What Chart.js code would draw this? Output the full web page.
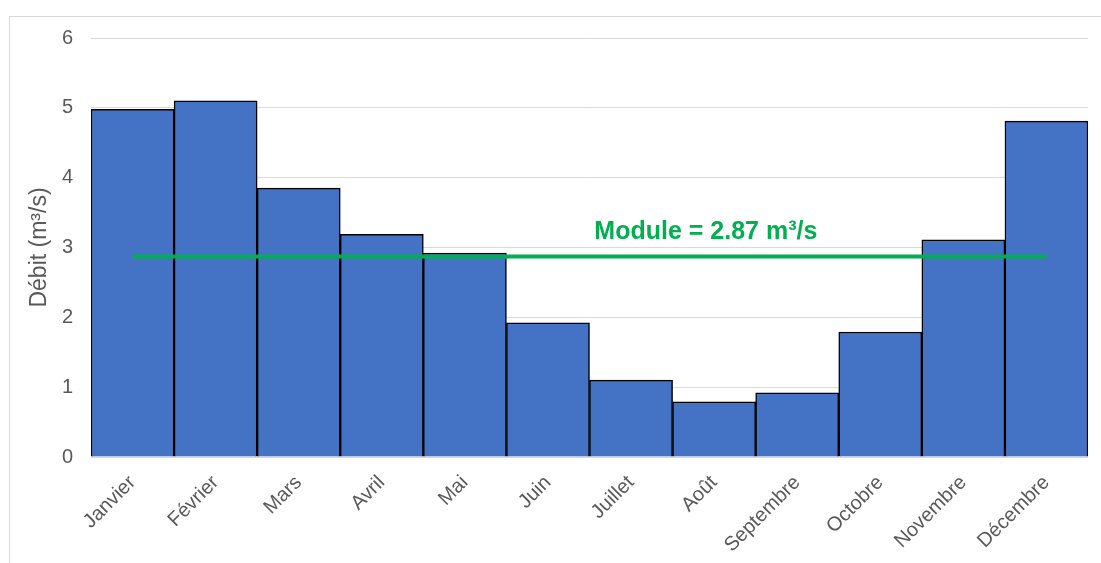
<!DOCTYPE html>
<html>
<head>
<meta charset="utf-8">
<script src="https://cdn.jsdelivr.net/npm/chart.js@4/dist/chart.umd.min.js"></script>
<style>
  body { margin: 0; background: #fff; }
  #wrap { position: relative; width: 1101px; height: 563px; }
</style>
</head>
<body>
<div id="wrap"><canvas id="chart" width="1101" height="563"></canvas></div>
<script>
// mean monthly discharge
const months = ['Janvier', 'Février', 'Mars', 'Avril', 'Mai', 'Juin', 'Juillet', 'Août', 'Septembre', 'Octobre', 'Novembre', 'Décembre'];
const debit = [4.98, 5.10, 3.85, 3.19, 2.92, 1.92, 1.10, 0.79, 0.92, 1.79, 3.11, 4.81];
const moduleValue = 2.87;
const moduleLine = months.map(() => moduleValue);
const yTicks = [0, 1, 2, 3, 4, 5, 6];

const grey = '#595959';
const green = '#00B050';
const font = '"Liberation Sans", Arial, sans-serif';

// frame + module label
const extras = {
  id: 'extras',
  beforeDraw(chart) {
    const ctx = chart.ctx;
    ctx.save();
    ctx.strokeStyle = '#d9d9d9';
    ctx.lineWidth = 1;
    ctx.strokeRect(9.5, 16.5, 1200, 600);
    ctx.restore();
  },
  afterDatasetsDraw(chart) {
    const ctx = chart.ctx;
    const x = chart.scales.x.getPixelForValue(6.9);
    const y = chart.scales.y.getPixelForValue(moduleValue) - 24;
    ctx.save();
    ctx.fillStyle = green;
    ctx.font = 'bold 25px ' + font;
    ctx.textAlign = 'center';
    ctx.textBaseline = 'middle';
    ctx.fillText('Module = ' + moduleValue + ' m³/s', x, y);
    ctx.restore();
  }
};

new Chart(document.getElementById('chart'), {
  data: {
    labels: months,
    datasets: [
      {
        type: 'line',
        label: 'Module',
        data: moduleLine,
        borderColor: green,
        borderWidth: 4,
        pointRadius: 0,
        order: 0
      },
      {
        type: 'bar',
        label: 'Débit',
        data: debit,
        backgroundColor: '#4472C4',
        borderColor: '#000000',
        borderWidth: 1.5,
        barPercentage: 1,
        categoryPercentage: 1,
        order: 1
      }
    ]
  },
  options: {
    responsive: false,
    animation: false,
    layout: { padding: { left: 20, right: 13, top: 38, bottom: 4 } },
    plugins: {
      legend: { display: false },
      tooltip: { enabled: false }
    },
    scales: {
      x: {
        grid: { display: false, drawTicks: false },
        border: { display: false },
        ticks: {
          color: grey,
          minRotation: 45,
          maxRotation: 45,
          padding: 14,
          font: { family: font, size: 20 }
        },
        afterFit(s) { s.height = 102; }
      },
      y: {
        min: 0,
        max: 6,
        afterBuildTicks(s) { s.ticks = yTicks.map(v => ({ value: v })); },
        grid: { color: '#d9d9d9', drawTicks: false },
        border: { display: false },
        ticks: {
          color: grey,
          padding: 18,
          font: { family: font, size: 20 }
        },
        title: {
          display: true,
          text: 'Débit (m³/s)',
          color: grey,
          padding: { top: 6, bottom: 0 },
          font: { family: font, size: 23 }
        },
        afterFit(s) { s.width = 71; }
      }
    }
  },
  plugins: [extras]
});
</script>
</body>
</html>
